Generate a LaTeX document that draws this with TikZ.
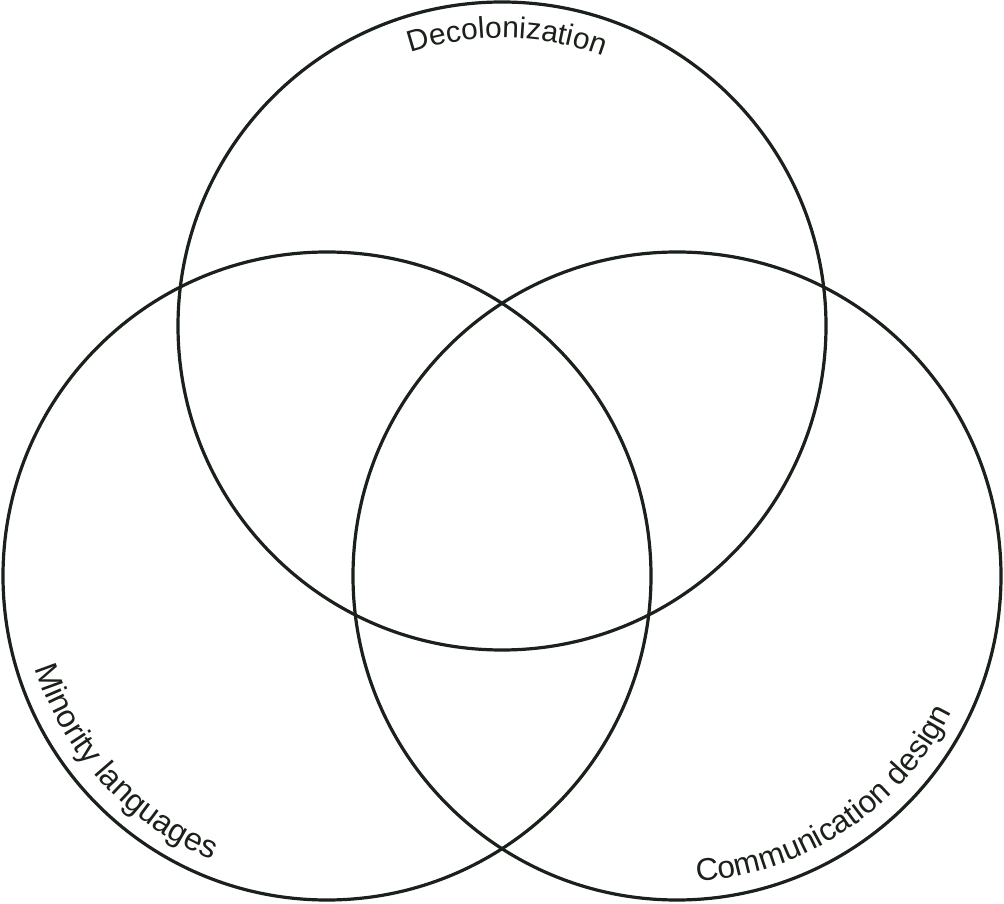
\documentclass[tikz,border=0pt]{standalone}
\usepackage{fontspec}
\setmainfont{Liberation Sans}
\usetikzlibrary{decorations.text}
\definecolor{ink}{RGB}{26,32,26}
\newcommand\vennfont{\fontsize{30}{36}\selectfont\color{ink}}
\newcommand\vennfontL{\fontsize{32}{38}\selectfont\color{ink}}
\newcommand\vennfontR{\fontsize{31.5}{38}\selectfont\color{ink}}
\begin{document}
\begin{tikzpicture}[x=1pt,y=1pt,
  ring/.style={draw=ink, line width=3.2pt, circle, minimum size=648pt, inner sep=0pt, outer sep=0pt},
  arclabel/.style={decorate, decoration={text along path, text align=center, text={#1}}}]
\useasboundingbox (0,0) rectangle (1004,903);
\coordinate (T) at (502,577);
\coordinate (L) at (327,327);
\coordinate (R) at (677,327);
\node[ring] (top) at (T) {};
\node[ring] (left) at (L) {};
\node[ring] (right) at (R) {};
\path[arclabel={|\vennfont|Decolonization}]
  ([shift={(115:288)}]T) arc[start angle=115, end angle=63, radius=288];
\path[arclabel={|\vennfontL|Minority languages}]
  ([shift={(190:306)}]L) arc[start angle=190, end angle=255.4, radius=306];
\path[arclabel={|\vennfontR|Communication design}]
  ([shift={(268:306)}]R) arc[start angle=268, end angle=339.4, radius=306];
\end{tikzpicture}
\end{document}
